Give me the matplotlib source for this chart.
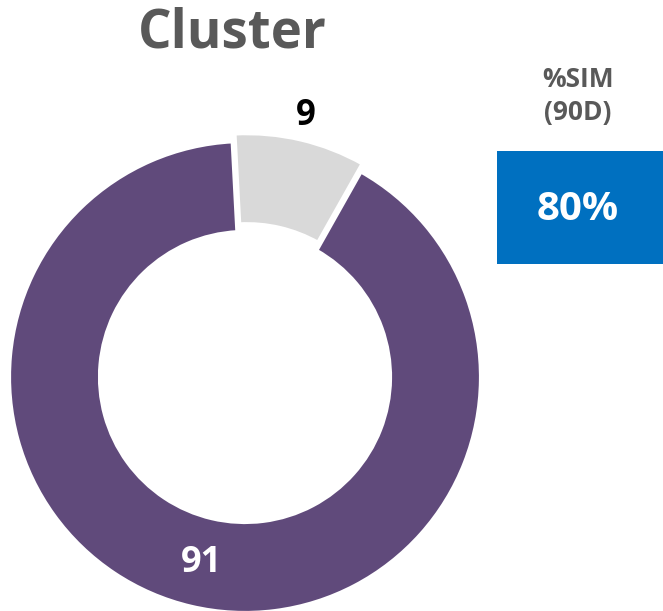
import matplotlib.pyplot as plt
import numpy as np
from matplotlib.patches import Rectangle

plt.rcParams['font.family'] = ['Open Sans', 'DejaVu Sans']

segments = ['Other', 'Cluster']
counts = [9, 91]
colors = ['#D9D9D9', '#604A7B']
sim_label = '%SIM\n(90D)'
sim_value = '80%'

W, H = 663, 611
cx, cy, R = 245, 377, 236  # donut centre / radius in pixels

fig = plt.figure(figsize=(W / 100, H / 100), dpi=100)
ax = fig.add_axes([0, 0, 1, 1])

wedges, texts = ax.pie(counts, colors=colors, startangle=93, counterclock=False,
                       explode=[0.034, 0], radius=1,
                       labels=[str(c) for c in counts], labeldistance=0.81,
                       wedgeprops=dict(width=91 / 236, edgecolor='white', linewidth=3),
                       textprops=dict(fontsize=25, fontweight='bold', ha='center', va='center'))
# pie() resets limits, so set them afterwards
ax.set_xlim(-cx / R, (W - cx) / R)
ax.set_ylim((cy - H) / R, cy / R)
ax.set_aspect('equal')
ax.axis('off')

texts[1].set_color('white')
texts[1].set_fontsize(26)
# small slice label sits outside the ring
w = wedges[0]
mid = np.deg2rad((w.theta1 + w.theta2) / 2)
texts[0].set_position((1.135 * np.cos(mid), 1.135 * np.sin(mid)))
texts[0].set_color('black')

fig.text(232 / W, 1 - 33 / H, 'Cluster', fontsize=38, fontweight='bold',
         color='#595959', ha='center', va='center')
fig.text(578 / W, 1 - 96 / H, sim_label, fontsize=19, fontweight='bold',
         color='#595959', ha='center', va='center', linespacing=1.3)
fig.patches.append(Rectangle((497 / W, 1 - 264 / H), 166 / W, 113 / H,
                             transform=fig.transFigure, facecolor='#0070C0',
                             edgecolor='none'))
fig.text(578 / W, 1 - 210 / H, sim_value, fontsize=29, fontweight='bold',
         color='white', ha='center', va='center')

fig.savefig('out.png', dpi=100)
